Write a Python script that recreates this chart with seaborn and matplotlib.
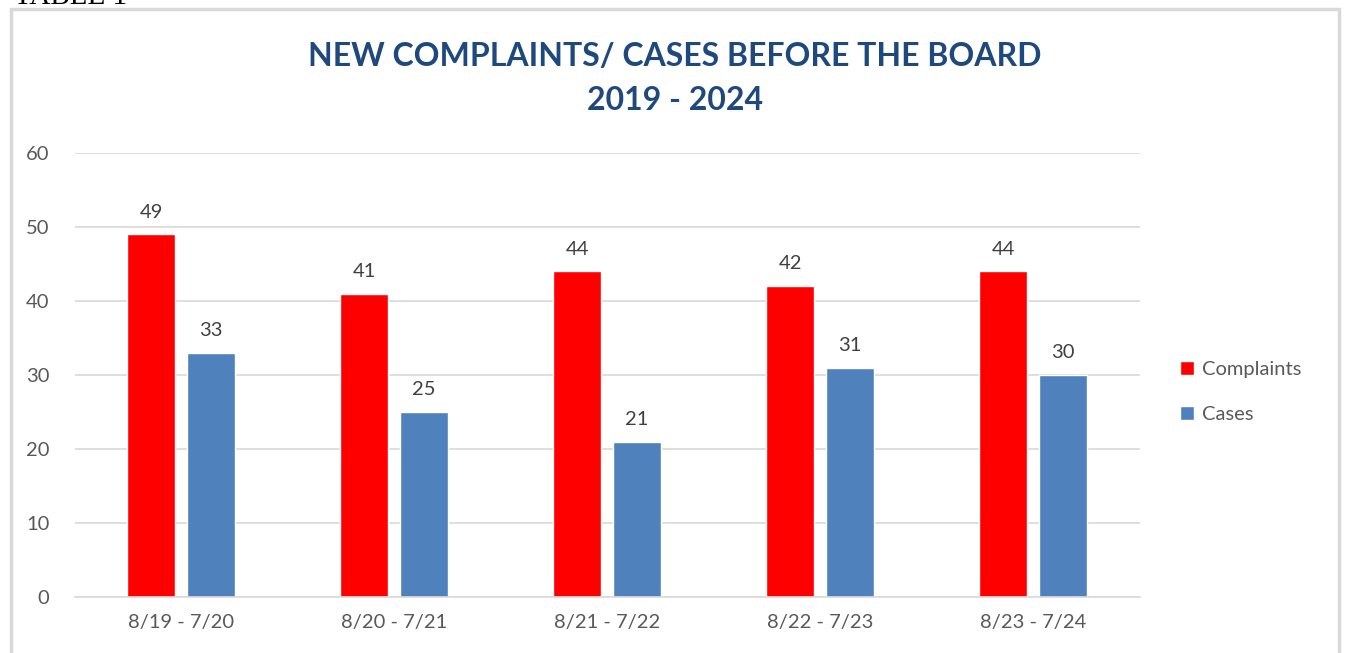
import numpy as np
import pandas as pd
import seaborn as sns
import matplotlib.pyplot as plt
from matplotlib.patches import Rectangle

periods = ["8/19 - 7/20", "8/20 - 7/21", "8/21 - 7/22", "8/22 - 7/23", "8/23 - 7/24"]
complaints = [49, 41, 44, 42, 44]
cases = [33, 25, 21, 31, 30]

df = pd.DataFrame({
    "period": periods * 2,
    "count": complaints + cases,
    "type": ["Complaints"] * len(periods) + ["Cases"] * len(periods),
})

sns.set_style("white")
plt.rcParams["font.family"] = ["Lato", "DejaVu Sans"]

W, H = 1347, 653
fig = plt.figure(figsize=(W / 100, H / 100), dpi=100)
ax = fig.add_axes([74.5 / W, (H - 597) / H, 1065 / W, 444 / H])

sns.barplot(
    data=df, x="period", y="count", hue="type",
    palette={"Complaints": "#FF0000", "Cases": "#4F81BD"},
    width=0.563, gap=0.2, ax=ax, legend=True, saturation=1,
)

for c in ax.containers:
    ax.bar_label(c, padding=10, fontsize=14.5, color="#404040")

ax.set_ylim(0, 60)
ax.set_yticks(range(0, 61, 10))
ax.set_xlim(-0.5, 4.5)
ax.yaxis.grid(True, color="#D9D9D9", linewidth=1.2)
ax.set_axisbelow(True)
for s in ["top", "right", "left"]:
    ax.spines[s].set_visible(False)
ax.spines["bottom"].set_color("#D9D9D9")
ax.spines["bottom"].set_linewidth(1.2)
ax.tick_params(axis="both", length=0, labelsize=14.5, labelcolor="#595959")
ax.tick_params(axis="x", pad=12)
ax.tick_params(axis="y", pad=18)
ax.set_xlabel("")
ax.set_ylabel("")

handles, labels = ax.get_legend_handles_labels()
ax.legend(handles, labels, loc="center left", bbox_to_anchor=(1162 / W, 1 - 392 / H),
          bbox_transform=fig.transFigure, frameon=False, fontsize=14.5,
          labelcolor="#595959", handlelength=0.7, handleheight=0.7,
          handletextpad=0.4, labelspacing=1.35)

fig.text(675 / W, 1 - 56 / H, "NEW COMPLAINTS/ CASES BEFORE THE BOARD", ha="center",
         va="center", fontsize=23, fontweight="bold", color="#1F497D")
fig.text(675 / W, 1 - 101 / H, "2019 - 2024", ha="center", va="center",
         fontsize=23, fontweight="bold", color="#1F497D")

# page remnants: caption cut off at top and the chart border
fig.text(14 / W, 1 - 4 / H, "TABLE 1", ha="left", va="baseline", fontsize=21,
         family="Liberation Serif", color="black")
fig.patches.append(Rectangle((11 / W, -0.05), 1328 / W, 1 - 9 / H + 0.05,
                             transform=fig.transFigure, fill=False,
                             edgecolor="#D9D9D9", linewidth=2.5))

fig.savefig("out.png", dpi=100)
